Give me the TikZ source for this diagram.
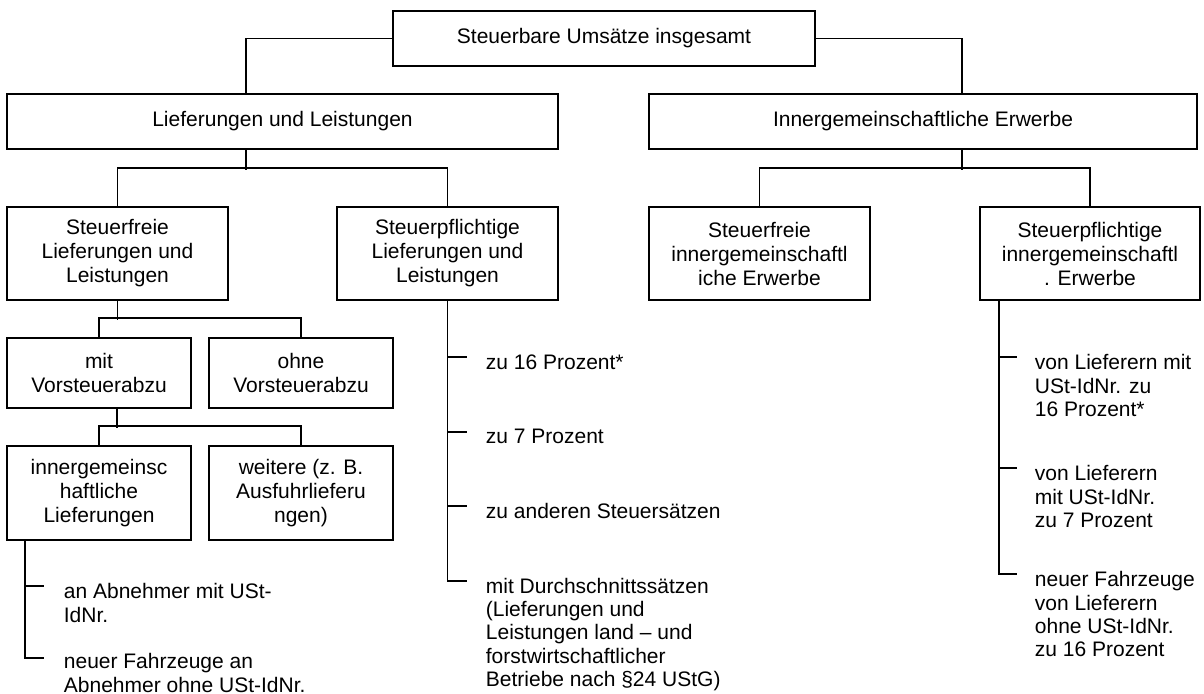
\documentclass[tikz,border=0pt]{standalone}
\usepackage{fontspec}
\setmainfont{Liberation Sans}
\usepackage{tikz}
\usetikzlibrary{positioning}
\definecolor{ink}{RGB}{0,0,0}

\begin{document}
\begin{tikzpicture}[x=1pt,y=-1pt,line width=1.8pt,
    font=\fontsize{21}{24}\selectfont,
    box/.style={rectangle,draw=ink,inner sep=0pt,align=center},
    leaf/.style={inner sep=0pt,align=left,anchor=north west,font=\fontsize{21}{23.4}\selectfont}]
    \useasboundingbox (0,0) rectangle (1204,693);
    \node (top) [box,minimum width=422pt,minimum height=55pt] at (604,38.5) {Steuerbare Umsätze insgesamt};
    \node (lief) [box,minimum width=551pt,minimum height=55pt] at (282.5,121.5) {Lieferungen und Leistungen};
    \node (inner) [box,minimum width=548pt,minimum height=55pt] at (923,121.5) {Innergemeinschaftliche Erwerbe};
    \node (frei) [box,minimum width=221pt,minimum height=93pt] at (117.5,253.5) {Steuerfreie\\Lieferungen und\\Leistungen};
    \node (pfl) [box,minimum width=221pt,minimum height=93pt] at (447.5,253.5) {Steuerpflichtige\\Lieferungen und\\Leistungen};
    \node (ifrei) [box,minimum width=221pt,minimum height=93pt] at (759.5,253.5) {Steuerfreie\\innergemeinschaftl\\iche Erwerbe};
    \node (ipfl) [box,minimum width=220pt,minimum height=93pt] at (1090,253.5) {Steuerpflichtige\\innergemeinschaftl\\. Erwerbe};
    \node (mit) [box,minimum width=184pt,minimum height=70pt] at (99,373) {mit\\Vorsteuerabzu};
    \node (ohne) [box,minimum width=184pt,minimum height=70pt] at (301,373) {ohne\\Vorsteuerabzu};
    \node (igl) [box,minimum width=184pt,minimum height=94pt] at (99,493) {innergemeinsc\\haftliche\\Lieferungen};
    \node (weit) [box,minimum width=184pt,minimum height=94pt] at (301,493) {weitere (z. B.\\Ausfuhrlieferu\\ngen)};

    \node (an) [leaf] at (63,582.5) {an Abnehmer mit USt-\\IdNr.};
    \node (nf) [leaf] at (63,652.5) {neuer Fahrzeuge an\\Abnehmer ohne USt-IdNr.};
    \node (z16) [leaf] at (485,353.5) {zu 16 Prozent*};
    \node (z7) [leaf] at (485,428.5) {zu 7 Prozent};
    \node (zand) [leaf] at (485,502.5) {zu anderen Steuersätzen};
    \node (durch) [leaf] at (485,577) {mit Durchschnittssätzen\\(Lieferungen und\\Leistungen land – und\\forstwirtschaftlicher\\Betriebe nach §24 UStG)};
    \node (v16) [leaf] at (1034,353.5) {von Lieferern mit\\USt-IdNr. zu\\16 Prozent*};
    \node (v7) [leaf] at (1034,464.5) {von Lieferern\\mit USt-IdNr.\\zu 7 Prozent};
    \node (nfz) [leaf] at (1034,570.5) {neuer Fahrzeuge\\von Lieferern\\ohne USt-IdNr.\\zu 16 Prozent};

    \draw (top.west) -| ([xshift=-36.5]lief.north);
    \draw (top.east) -| ([xshift=39]inner.north);
    \draw ([xshift=-36.5]lief.south) -- ++(0,20);
    \draw (frei.north) -- ++(0,-38) -| (pfl.north);
    \draw ([xshift=39]inner.south) -- ++(0,20);
    \draw (ifrei.north) -- ++(0,-38) -| (ipfl.north);
    \draw (frei.south) -- ++(0,19);
    \draw (mit.north) -- ++(0,-19) -| (ohne.north);
    \draw ([xshift=18]mit.south) -- ++(0,19);
    \draw (igl.north) -- ++(0,-19) -| (weit.north);

    \draw ([xshift=-74]igl.south) |- ([shift={(-19,3.5)}]an.north west);
    \draw ([xshift=-74]igl.south) |- ([shift={(-19,5.5)}]nf.north west);
    \draw (pfl.south) |- ([shift={(-18,3.5)}]z16.north west);
    \draw (pfl.south) |- ([shift={(-18,3.5)}]z7.north west);
    \draw (pfl.south) |- ([shift={(-18,3.5)}]zand.north west);
    \draw (pfl.south) |- ([shift={(-18,4)}]durch.north west);
    \draw ([xshift=-91]ipfl.south) |- ([shift={(-17,3.5)}]v16.north west);
    \draw ([xshift=-91]ipfl.south) |- ([shift={(-17,3.5)}]v7.north west);
    \draw ([xshift=-91]ipfl.south) |- ([shift={(-17,3.5)}]nfz.north west);
\end{tikzpicture}
\end{document}
